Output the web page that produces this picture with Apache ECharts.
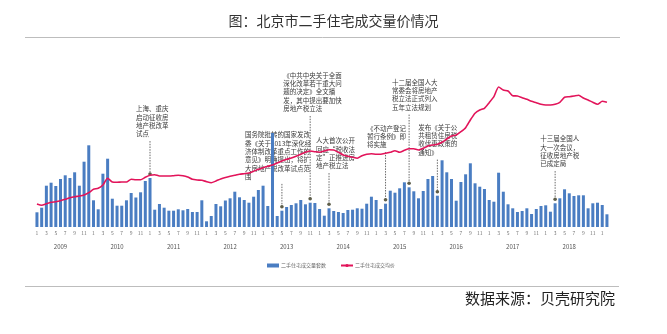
<!DOCTYPE html>
<html>
<head>
<meta charset="utf-8">
<script src="https://cdn.jsdelivr.net/npm/echarts@6/dist/echarts.min.js"></script>
<style>
html,body{margin:0;padding:0;background:#fff;}
#c{width:667px;height:334px;}
</style>
</head>
<body>
<div id="c"></div>
<script>
// 月份：2009-01 至 2019-02
const years = [2009, 2010, 2011, 2012, 2013, 2014, 2015, 2016, 2017, 2018, 2019];
const lastMonth = '2019-02';
const months = [];
for (const y of years) {
  for (let m = 1; m <= 12; m++) {
    const key = y + '-' + String(m).padStart(2, '0');
    months.push(key);
    if (key === lastMonth) break;
  }
}

// 二手住宅成交量（套）
const volume = [
  7350, 9650, 20650, 22150, 20500, 24000, 25850, 24500, 27350, 20650, 32650, 40850,
  13350, 8850, 26650, 34150, 14150, 10650, 10650, 13350, 17000, 14750, 17350, 23000,
  24500, 8650, 11500, 9650, 8150, 8150, 8850, 8350, 9000, 7500, 7500, 13350,
  2850, 5500, 11500, 10350, 13250, 14350, 17650, 14850, 13500, 12150, 15150, 18500,
  20650, 10500, 47000, 5500, 8150, 10000, 11000, 11850, 13500, 11350, 12150, 12000,
  9000, 5650, 9350, 8000, 7500, 7000, 8500, 8650, 9350, 9150, 11650, 15150,
  13500, 9000, 11650, 18150, 17150, 19350, 22350, 19850, 17850, 14350, 18000, 24000,
  25500, 15650, 33350, 27350, 24000, 13150, 22500, 26350, 31850, 21850, 20150, 19000,
  13500, 12650, 27150, 17650, 11350, 9350, 7500, 8000, 9350, 6500, 9000, 10500,
  10850, 7650, 11850, 14350, 18850, 16850, 15500, 15850, 15850, 9350, 11850, 12150,
  11000, 6350
];

// 二手住宅成交均价（元/平方米）
const price = [
  10350, 9770, 10490, 11120, 11390, 11840, 12470, 13190, 13640, 13950, 14400, 15440,
  16970, 17420, 18900, 21920, 20250, 20120, 20250, 20250, 21470, 21290, 21290, 22370,
  23270, 23540, 22950, 22950, 22950, 23090, 23270, 23090, 22500, 21470, 21150, 21020,
  20390, 19940, 20700, 21600, 22280, 22820, 23270, 23720, 23990, 24300, 25070, 25970,
  26690, 27320, 27900, 28800, 29700, 30470, 31050, 31820, 32720, 33620, 34200, 33890,
  33620, 34200, 34790, 34650, 33620, 32400, 31820, 31370, 30920, 32090, 32720, 32990,
  32720, 32720, 33170, 33620, 34340, 33620, 34520, 35240, 35190, 34650, 35420, 36450,
  36900, 37220, 38120, 39600, 40950, 41400, 42890, 44690, 48150, 51170, 52650, 53420,
  55940, 58640, 63000, 61650, 61200, 59090, 58950, 58190, 57470, 56570, 55940, 55220,
  54900, 54900, 55220, 56120, 58370, 58640, 58950, 59270, 58050, 57150, 56120, 55220,
  56570, 56120
];

// 政策事件
const notes = [
  { month: '2011-01', text: ['上海、重庆', '启动征收房', '地产税改革', '试点'] },
  { month: '2013-05', text: ['国务院批转的国家发改', '委《关于2013年深化经', '济体制改革重点工作的', '意见》明确提出，将扩', '大房地产税改革试点范', '围'] },
  { month: '2013-11', text: ['《中共中央关于全面', '深化改革若干重大问', '题的决定》全文播', '发，其中提出要加快', '房地产税立法'] },
  { month: '2014-03', text: ['人大首次公开', '回应“税收法', '定”正推进房', '地产税立法'] },
  { month: '2015-03', text: ['《不动产登记', '暂行条例》即', '将实施'] },
  { month: '2015-08', text: ['十二届全国人大', '常委会将房地产', '税立法正式列入', '五年立法规划'] },
  { month: '2016-02', text: ['发布《关于公', '共租赁住房税', '收优惠政策的', '通知》'] },
  { month: '2018-03', text: ['十三届全国人', '大一次会议，', '征收房地产税', '已成定局'] }
];

// 事件文字框的摆放（相对标记点的水平偏移、文字顶部）
const noteBoxes = [
  { dx: -14, top: 104.5 },
  { dx: -37, top: 130.5 },
  { dx: -27, top: 71 },
  { dx: -13, top: 136.5 },
  { dx: -18.5, top: 124 },
  { dx: -17, top: 78 },
  { dx: -19, top: 123 },
  { dx: -15, top: 134.5 }
];
const NOTE_LH = 8.4;
const CJK = '"Noto Sans CJK SC", "Noto Sans", sans-serif';

const chart = echarts.init(document.getElementById('c'), null, { renderer: 'canvas' });

const option = {
  animation: false,
  backgroundColor: '#fff',
  title: {
    text: '图：北京市二手住宅成交量价情况',
    left: 'center',
    top: 9,
    textStyle: { fontFamily: CJK, fontSize: 14, fontWeight: 'normal', color: '#333' }
  },
  legend: {
    left: 262,
    top: 258,
    itemWidth: 12,
    itemHeight: 4,
    itemGap: 14,
    textStyle: { fontFamily: CJK, fontSize: 5, color: '#666', padding: [0, 0, 0, -3] },
    data: [
      { name: '二手住宅成交量套数', icon: 'rect' },
      { name: '二手住宅成交均价' }
    ]
  },
  grid: { left: 34.6, right: 57.7, top: 77, bottom: 107, containLabel: false },
  xAxis: [
    {
      type: 'category',
      data: months,
      boundaryGap: true,
      axisLine: { show: false },
      axisTick: { show: false },
      axisLabel: {
        interval: (i) => i % 2 === 0,
        formatter: (v) => String(parseInt(v.slice(5), 10)),
        fontFamily: CJK,
        fontSize: 5,
        color: '#777',
        margin: 4
      }
    },
    {
      type: 'category',
      data: months,
      position: 'bottom',
      offset: 13,
      boundaryGap: true,
      axisLine: { show: false },
      axisTick: { show: false },
      axisLabel: {
        interval: (i) => i % 12 === 5,
        formatter: (v) => v.slice(0, 4),
        fontFamily: CJK,
        fontSize: 6,
        color: '#555',
        margin: 4
      }
    }
  ],
  yAxis: [
    { type: 'value', min: 0, max: 75000, show: false },
    { type: 'value', min: 0, max: 67500, show: false }
  ],
  series: [
    {
      name: '事件',
      type: 'custom',
      xAxisIndex: 0,
      yAxisIndex: 0,
      z: 1,
      clip: false,
      silent: true,
      data: notes.map((n) => [months.indexOf(n.month), volume[months.indexOf(n.month)]]),
      renderItem: (params, api) => {
        const i = params.dataIndex;
        const p = api.coord([api.value(0), api.value(1)]);
        const box = noteBoxes[i];
        const lines = notes[i].text;
        const dotY = p[1] - 4;
        const lineTop = box.top + lines.length * NOTE_LH + 3;
        return {
          type: 'group',
          children: [
            {
              type: 'line',
              shape: { x1: p[0], y1: lineTop, x2: p[0], y2: dotY },
              style: { stroke: '#6a6a6a', lineWidth: 1, lineDash: [1.5, 1.2] }
            },
            {
              type: 'circle',
              shape: { cx: p[0], cy: dotY, r: 1.8 },
              style: { fill: '#5e5e4a' }
            },
            {
              type: 'text',
              x: p[0] + box.dx,
              y: box.top,
              style: {
                text: lines.join('\n'),
                fontFamily: CJK,
                fontSize: 6.5,
                lineHeight: NOTE_LH,
                fill: '#3a3a3a',
                verticalAlign: 'top',
                align: 'left'
              }
            }
          ]
        };
      }
    },
    {
      name: '二手住宅成交量套数',
      type: 'bar',
      xAxisIndex: 0,
      yAxisIndex: 0,
      z: 2,
      barWidth: 3,
      itemStyle: { color: '#4a7dc2' },
      data: volume
    },
    {
      name: '二手住宅成交均价',
      type: 'line',
      xAxisIndex: 0,
      yAxisIndex: 1,
      z: 3,
      symbol: 'none',
      smooth: 0.2,
      lineStyle: { color: '#e2145a', width: 1.6 },
      itemStyle: { color: '#e2145a' },
      data: price
    }
  ],
  graphic: [
    { type: 'line', shape: { x1: 25, y1: 37.5, x2: 620, y2: 37.5 }, style: { stroke: '#bdbdbd', lineWidth: 1 } },
    { type: 'line', shape: { x1: 25, y1: 286.5, x2: 619, y2: 286.5 }, style: { stroke: '#bdbdbd', lineWidth: 1 } },
    {
      type: 'text',
      right: 52,
      top: 291,
      style: { text: '数据来源：贝壳研究院', fontFamily: CJK, fontSize: 15, fill: '#222' }
    }
  ]
};

chart.setOption(option);
</script>
</body>
</html>
